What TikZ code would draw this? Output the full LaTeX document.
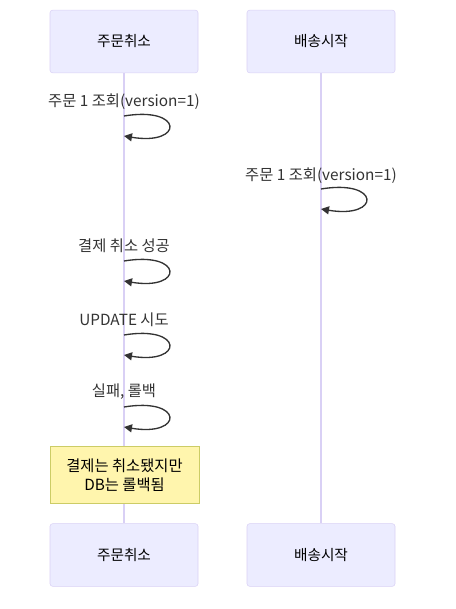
\documentclass[tikz,border=0pt]{standalone}
\usepackage{fontspec}
\usepackage{tikz}
\usetikzlibrary{arrows.meta,calc}
\setmainfont{Noto Sans CJK KR}
\definecolor{actorfill}{HTML}{ECECFF}
\definecolor{actorline}{HTML}{D9D0F5}
\definecolor{notefill}{HTML}{FFF5AD}
\definecolor{noteline}{HTML}{CCCC66}
\definecolor{txt}{HTML}{333333}

\tikzset{
    actor/.style={draw=actorline, fill=actorfill, rounded corners=2pt, minimum width=111pt, minimum height=47pt, inner sep=0pt, font=\fontsize{11}{13}\selectfont, text=black},
    note/.style={draw=noteline, fill=notefill, minimum width=112pt, minimum height=43pt, inner sep=0pt, align=center, font=\fontsize{11.5}{14}\selectfont, text=black},
    msg/.style={font=\fontsize{11.5}{13}\selectfont, text=txt, inner sep=0pt},
    life/.style={draw=actorline, line width=0.9pt},
    loop/.style={draw=txt, line width=1pt, -{Triangle[length=6pt,width=6pt]}}
}

\begin{document}
\begin{tikzpicture}[x=0.75pt, y=-0.75pt]
        \useasboundingbox (0,0) rectangle (455,609);

        % lifelines
        \coordinate (cTop) at (124,73);
        \coordinate (cBot) at (124,523);
        \coordinate (sTop) at (321,73);
        \coordinate (sBot) at (321,523);
        \draw[life] (cTop) -- (cBot);
        \draw[life] (sTop) -- (sBot);

        % actors
        \node[actor] (cancelTop) at (124,41.5) {주문취소};
        \node[actor] (shipTop) at (321,41.5) {배송시작};
        \node[actor] (cancelBot) at (124,555) {주문취소};
        \node[actor] (shipBot) at (321,555) {배송시작};

        % self messages
        \node[msg] (m1) at (124,102) {주문 1 조회(version=1)};
        \coordinate (a1) at (124,116);
        \coordinate (b1) at (124,136);
        \draw[loop] (a1) .. controls ($(a1)+(60,-10)$) and ($(a1)+(60,30)$) .. (b1);

        \node[msg] (m2) at (321,176) {주문 1 조회(version=1)};
        \coordinate (a2) at (321,189);
        \coordinate (b2) at (321,209);
        \draw[loop] (a2) .. controls ($(a2)+(60,-10)$) and ($(a2)+(60,30)$) .. (b2);

        \node[msg] (m3) at (124,246) {결제 취소 성공};
        \coordinate (a3) at (124,261);
        \coordinate (b3) at (124,281);
        \draw[loop] (a3) .. controls ($(a3)+(60,-10)$) and ($(a3)+(60,30)$) .. (b3);

        \node[msg] (m4) at (124,320) {UPDATE 시도};
        \coordinate (a4) at (124,335);
        \coordinate (b4) at (124,355);
        \draw[loop] (a4) .. controls ($(a4)+(60,-10)$) and ($(a4)+(60,30)$) .. (b4);

        \node[msg] (m5) at (124,392) {실패, 롤백};
        \coordinate (a5) at (124,407);
        \coordinate (b5) at (124,427);
        \draw[loop] (a5) .. controls ($(a5)+(60,-10)$) and ($(a5)+(60,30)$) .. (b5);

        % note
        \node[note] (fail) at (124.5,475) {결제는 취소됐지만\\DB는 롤백됨};

    \end{tikzpicture}
\end{document}
